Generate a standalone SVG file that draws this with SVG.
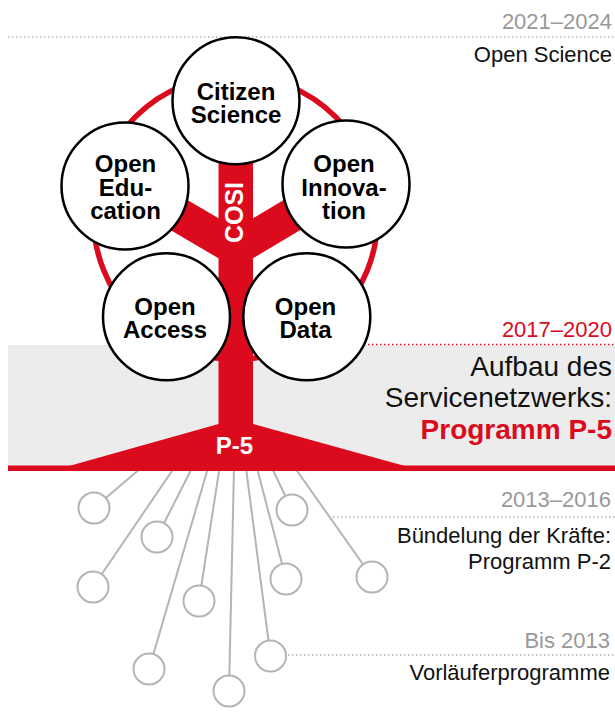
<svg xmlns="http://www.w3.org/2000/svg" width="615" height="721" viewBox="0 0 615 721">
<style>
text{font-family:"Liberation Sans",Arial,sans-serif}
.lbl{font-size:24px;font-weight:bold;fill:#000;text-anchor:middle}
.main{fill:#fff;stroke:#000;stroke-width:2.5}
.root{fill:#fff;stroke:#b4b4b4;stroke-width:2}
.rline{stroke:#b4b4b4;stroke-width:2;fill:none}
.red{fill:#db0a1c}
.side{font-size:22px;text-anchor:end}
.gray{fill:#999}
.blk{fill:#111}
.dots{stroke:#aaa;stroke-width:1.4;stroke-dasharray:1.4 2.6;fill:none}
</style>
<rect x="8" y="345" width="607" height="121" fill="#ececec"/>
<line class="dots" x1="8" y1="37" x2="615" y2="37"/>
<line class="dots" x1="364" y1="344.5" x2="615" y2="344.5" style="stroke:#db0a1c"/>
<line class="dots" x1="333" y1="517" x2="615" y2="517"/>
<line class="dots" x1="288" y1="655" x2="615" y2="655"/>
<text class="side gray" x="612" y="29">2021–2024</text>
<text class="side blk" x="612" y="62">Open Science</text>
<text class="side" x="612" y="337" fill="#db0a1c">2017–2020</text>
<text class="side blk" x="612" y="375.5" style="font-size:28px">Aufbau des</text>
<text class="side blk" x="612" y="407" style="font-size:28px">Servicenetzwerks:</text>
<text class="side" x="612" y="439" style="font-size:28px;font-weight:bold" fill="#db0a1c">Programm P-5</text>
<text class="side gray" x="611" y="507">2013–2016</text>
<text class="side blk" x="611" y="543">Bündelung der Kräfte:</text>
<text class="side blk" x="611" y="568.5">Programm P-2</text>
<text class="side gray" x="610" y="648">Bis 2013</text>
<text class="side blk" x="610" y="680">Vorläuferprogramme</text>
<g id="connectors">
<line class="rline" x1="141" y1="468" x2="94" y2="508"/>
<line class="rline" x1="174" y1="468" x2="93" y2="587"/>
<line class="rline" x1="192" y1="468" x2="157" y2="537"/>
<line class="rline" x1="208" y1="468" x2="149" y2="669"/>
<line class="rline" x1="219.5" y1="468" x2="199" y2="601"/>
<line class="rline" x1="234" y1="468" x2="229" y2="691"/>
<line class="rline" x1="246" y1="468" x2="270.5" y2="656"/>
<line class="rline" x1="257" y1="468" x2="286" y2="579"/>
<line class="rline" x1="272" y1="468" x2="292" y2="510"/>
<line class="rline" x1="295" y1="468" x2="372" y2="577"/>
</g>
<g id="tree">
<circle cx="235.5" cy="217.5" r="142" fill="none" stroke="#db0a1c" stroke-width="5.5"/>
<path class="red" d="M218.5,150 L253,150 L253,218.3 L320,178.3 L320,218.3 L253,258.3 L253,424 L405,466 L69,466 L218.5,424 L218.5,258.3 L150,217.9 L150,177.9 L218.5,218.3 Z"/>
<rect class="red" x="8" y="465.5" width="607" height="5.5"/>
<text x="0" y="0" transform="translate(243.3,212.5) rotate(-90)" style="font-size:25px;font-weight:bold;fill:#fff;text-anchor:middle">COSI</text>
<text x="234.5" y="454" style="font-size:24px;font-weight:bold;fill:#fff;text-anchor:middle">P-5</text>
</g>
<g id="n-citizen"><circle class="main" cx="236" cy="100.7" r="63.5"/><text class="lbl" x="236" y="99.5">Citizen</text><text class="lbl" x="236" y="122.8">Science</text></g>
<g id="n-education"><circle class="main" cx="125" cy="186" r="63.5"/><text class="lbl" x="125.5" y="171.8">Open</text><text class="lbl" x="125.5" y="195.5">Edu-</text><text class="lbl" x="125.5" y="218.5">cation</text></g>
<g id="n-innovation"><circle class="main" cx="346" cy="184" r="63.5"/><text class="lbl" x="344" y="171.8">Open</text><text class="lbl" x="344" y="195.5">Innova-</text><text class="lbl" x="344" y="218.5">tion</text></g>
<g id="n-access"><circle class="main" cx="166.5" cy="316.7" r="63.5"/><text class="lbl" x="165" y="315">Open</text><text class="lbl" x="165" y="338.3">Access</text></g>
<g id="n-data"><circle class="main" cx="306.8" cy="316.7" r="63.5"/><text class="lbl" x="305.5" y="315">Open</text><text class="lbl" x="305.5" y="338.3">Data</text></g>
<g id="roots">
<circle class="root" cx="94" cy="508" r="15.5"/>
<circle class="root" cx="157" cy="537" r="15.5"/>
<circle class="root" cx="93" cy="587" r="15.5"/>
<circle class="root" cx="199" cy="601" r="15.5"/>
<circle class="root" cx="292" cy="510" r="15.5"/>
<circle class="root" cx="286" cy="579" r="15.5"/>
<circle class="root" cx="372" cy="577" r="15.5"/>
<circle class="root" cx="149" cy="669" r="15.5"/>
<circle class="root" cx="270.5" cy="656" r="15.5"/>
<circle class="root" cx="229" cy="691" r="15.5"/>
</g>
</svg>
